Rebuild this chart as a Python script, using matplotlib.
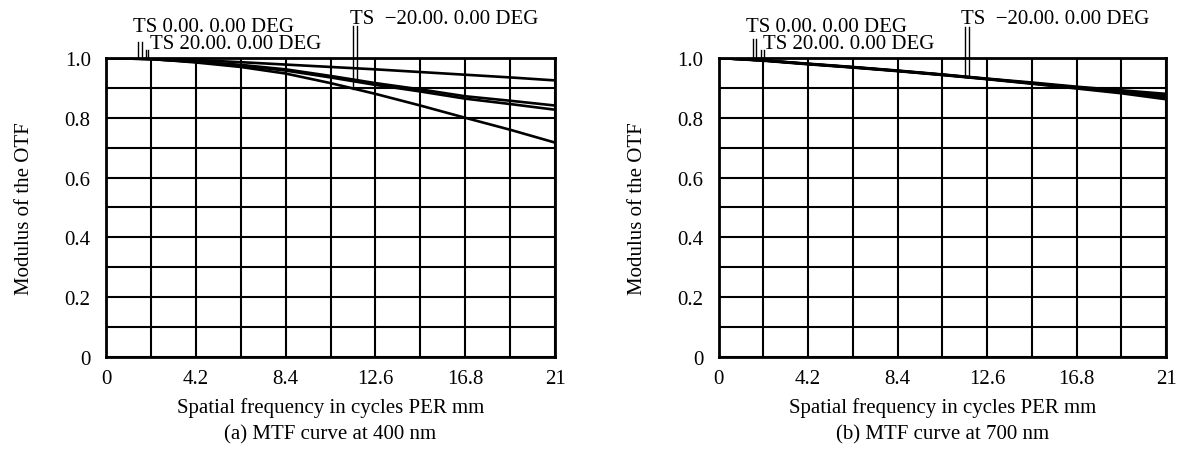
import numpy as np
import matplotlib
matplotlib.use("Agg")
import matplotlib.pyplot as plt

plt.rcParams['font.family'] = ['Liberation Serif', 'DejaVu Serif']
plt.rcParams['font.size'] = 15

# ---- data ----
freq = [0, 2.1, 4.2, 6.3, 8.4, 10.5, 12.6, 14.7, 16.8, 18.9, 21]

# (a) 400 nm
mtf400_a = [1.0, 0.998, 0.993, 0.986, 0.978, 0.970, 0.962, 0.953, 0.944, 0.935, 0.925]
mtf400_b = [1.0, 0.996, 0.988, 0.977, 0.962, 0.940, 0.916, 0.895, 0.872, 0.857, 0.841]
mtf400_c = [1.0, 0.996, 0.987, 0.975, 0.958, 0.935, 0.910, 0.888, 0.864, 0.846, 0.827]
mtf400_d = [1.0, 0.997, 0.985, 0.970, 0.948, 0.916, 0.880, 0.841, 0.800, 0.760, 0.717]

# (b) 700 nm
mtf700_a = [1.0, 0.992, 0.981, 0.970, 0.958, 0.945, 0.931, 0.918, 0.904, 0.892, 0.880]
mtf700_b = [1.0, 0.992, 0.980, 0.969, 0.957, 0.944, 0.930, 0.916, 0.902, 0.888, 0.874]
mtf700_c = [1.0, 0.992, 0.980, 0.969, 0.957, 0.944, 0.930, 0.915, 0.900, 0.885, 0.868]
mtf700_d = [1.0, 0.991, 0.979, 0.968, 0.956, 0.943, 0.929, 0.914, 0.898, 0.882, 0.862]

xticks = [0, 4.2, 8.4, 12.6, 16.8, 21]
xtick_labels = ['0', '4.2', '8.4', '12.6', '16.8', '21']
yticks = [0, 0.2, 0.4, 0.6, 0.8, 1.0]
ytick_labels = ['0', '0.2', '0.4', '0.6', '0.8', '1.0']

label_ts0 = 'TS 0.00. 0.00 DEG'
label_ts20 = 'TS 20.00. 0.00 DEG'
label_tsm20 = 'TS  \u221220.00. 0.00 DEG'

xlabel = 'Spatial frequency in cycles PER mm'
ylabel = 'Modulus of the OTF'
captions = ['(a) MTF curve at 400 nm', '(b) MTF curve at 700 nm']

fig = plt.figure(figsize=(11.88, 4.52), dpi=100)
ax1 = fig.add_axes([0.0892, 0.208, 0.378, 0.6615])
ax2 = fig.add_axes([0.6048, 0.208, 0.3767, 0.6615])


def setup(ax, curves, caption, lead):
    for c in curves:
        ax.plot(freq, c, color='black', lw=1.9, solid_capstyle='butt')
    ax.set_xlim(0, 21)
    ax.set_ylim(0, 1.0)
    ax.set_xticks(xticks)
    ax.set_xticklabels(xtick_labels)
    ax.set_yticks(yticks)
    ax.set_yticklabels(ytick_labels)
    ax.set_xticks(np.arange(0, 21.01, 2.1), minor=True)
    ax.set_yticks(np.arange(0, 1.001, 0.1), minor=True)
    ax.grid(which='both', color='black', lw=1.5)
    ax.tick_params(which='both', length=0)
    ax.tick_params(axis='x', pad=9)
    ax.tick_params(axis='y', pad=11)
    for s in ax.spines.values():
        s.set_linewidth(2.0)
    ax.set_xlabel(xlabel, labelpad=6)
    ax.set_ylabel(ylabel, labelpad=22)
    ax.text(0.5, -0.274, caption, transform=ax.transAxes, ha='center', va='baseline')

    # annotations
    (t0x, t0y), (t20x, t20y), (tmx, tmy), leaders = lead
    ax.text(t0x, t0y, label_ts0, ha='left', va='baseline', clip_on=False)
    ax.text(t20x, t20y, label_ts20, ha='left', va='baseline', clip_on=False)
    ax.text(tmx, tmy, label_tsm20, ha='left', va='baseline', clip_on=False)
    for (x, ytop, curve) in leaders:
        yend = np.interp(x, freq, curve)
        ax.plot([x, x], [ytop, yend], color='black', lw=1.0, clip_on=False)


lead1 = ((1.28, 1.091), (2.08, 1.035), (11.41, 1.117),
         [(1.52, 1.054, mtf400_a), (1.67, 1.054, mtf400_b),
          (1.85, 1.027, mtf400_c), (1.98, 1.027, mtf400_d),
          (11.57, 1.108, mtf400_d), (11.74, 1.108, mtf400_b)])
lead2 = ((1.28, 1.091), (2.09, 1.035), (11.36, 1.117),
         [(1.60, 1.063, mtf700_a), (1.75, 1.063, mtf700_b),
          (2.0, 1.027, mtf700_c), (2.15, 1.027, mtf700_d),
          (11.55, 1.102, mtf700_a), (11.75, 1.102, mtf700_b)])

setup(ax1, [mtf400_a, mtf400_b, mtf400_c, mtf400_d], captions[0], lead1)
setup(ax2, [mtf700_a, mtf700_b, mtf700_c, mtf700_d], captions[1], lead2)

fig.savefig('out.png', dpi=100)
